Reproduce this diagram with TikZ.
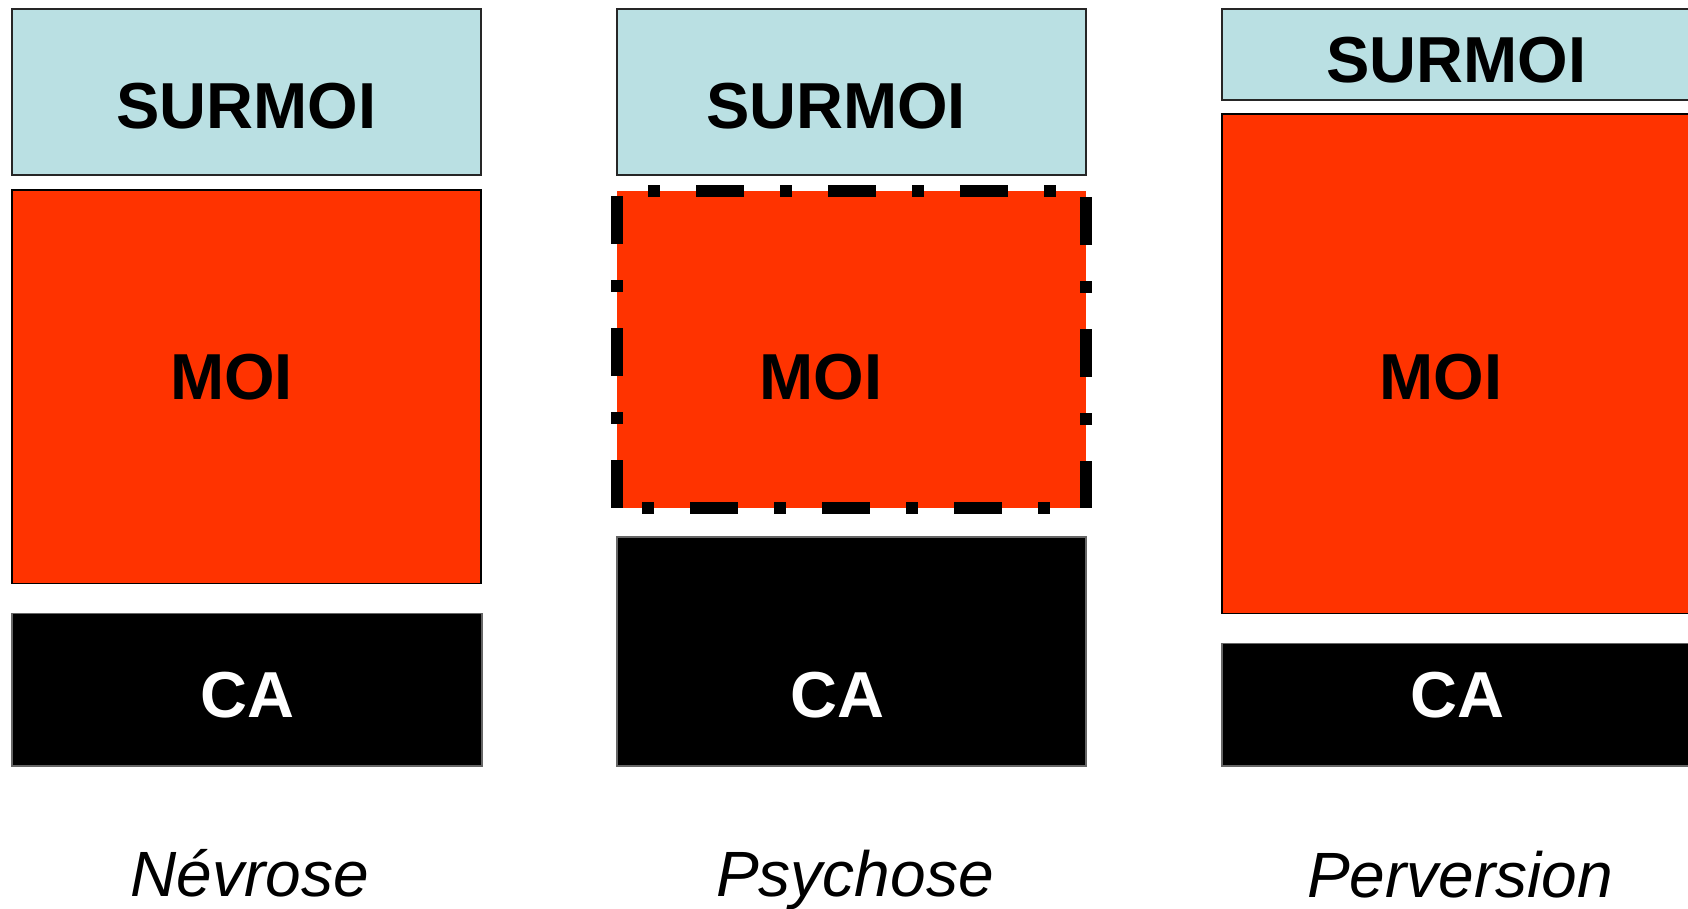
\documentclass[tikz,border=0pt]{standalone}
\usepackage{fontspec}
\setmainfont{Liberation Sans}
\definecolor{surmoiblue}{RGB}{186,224,227}
\definecolor{moired}{RGB}{255,51,0}
\tikzset{
  box/.style={rectangle, inner sep=0pt, outer sep=0pt, anchor=north west},
  surmoibox/.style={box, fill=surmoiblue, draw=black!85, line width=1.6pt},
  moibox/.style={box, fill=moired, draw=black, line width=1.6pt},
  moinoborder/.style={box, fill=moired},
  cabox/.style={box, fill=black, draw=black!60, line width=1.2pt},
  boxtext/.style={anchor=base, inner sep=0pt, font=\fontsize{65}{70}\selectfont\bfseries},
  catext/.style={boxtext, text=white},
  caption/.style={anchor=base, inner sep=0pt, font=\fontsize{64}{70}\selectfont\itshape},
  dashborder/.style={line width=12pt, dash pattern=on 12pt off 36pt on 48pt off 36pt}
}
\begin{document}
\begin{tikzpicture}[x=1pt,y=-1pt]
\useasboundingbox (0,0) rectangle (1688,908);
\clip (0,0) rectangle (1688,908);
% Left column
\node[surmoibox, minimum width=469pt, minimum height=166pt] (s1) at (12,9) {};
\node[moibox, minimum width=469pt, minimum height=393.5pt] (m1) at (12,190) {};
\node[cabox, minimum width=470pt, minimum height=152.5pt] (c1) at (12,613.5) {};
\node[boxtext] (ts1) at (246.5,128) {SURMOI};
\node[boxtext] (tm1) at (231.5,399) {MOI};
\node[catext] (tc1) at (247.5,717) {CA};
\node[caption] (l1) at (249.5,896) {Névrose};
% Middle column
\node[surmoibox, minimum width=469pt, minimum height=166pt] (s2) at (617,9) {};
\node[moinoborder, minimum width=469pt, minimum height=317pt] (m2) at (617,191) {};
\node[cabox, minimum width=469pt, minimum height=229pt] (c2) at (617,537) {};
\draw[dashborder, dash phase=101pt] (m2.north west) -- (m2.north east);
\draw[dashborder, dash phase=107pt] (m2.south west) -- (m2.south east);
\draw[dashborder, dash phase=43pt] (m2.north west) -- (m2.south west);
\draw[dashborder, dash phase=42pt] (m2.north east) -- (m2.south east);
\node[boxtext] (ts2) at (836,128) {SURMOI};
\node[boxtext] (tm2) at (821,399) {MOI};
\node[catext] (tc2) at (837.5,717) {CA};
\node[caption] (l2) at (855,896) {Psychose};
% Right column
\node[surmoibox, minimum width=470pt, minimum height=91pt] (s3) at (1222,9) {};
\node[moibox, minimum width=470pt, minimum height=499.5pt] (m3) at (1222,114) {};
\node[cabox, minimum width=470pt, minimum height=122.5pt] (c3) at (1222,643.5) {};
\node[boxtext] (ts3) at (1456.5,82) {SURMOI};
\node[boxtext] (tm3) at (1441,399) {MOI};
\node[catext] (tc3) at (1457.5,717) {CA};
\node[caption] (l3) at (1460,897) {Perversion};
\end{tikzpicture}
\end{document}
